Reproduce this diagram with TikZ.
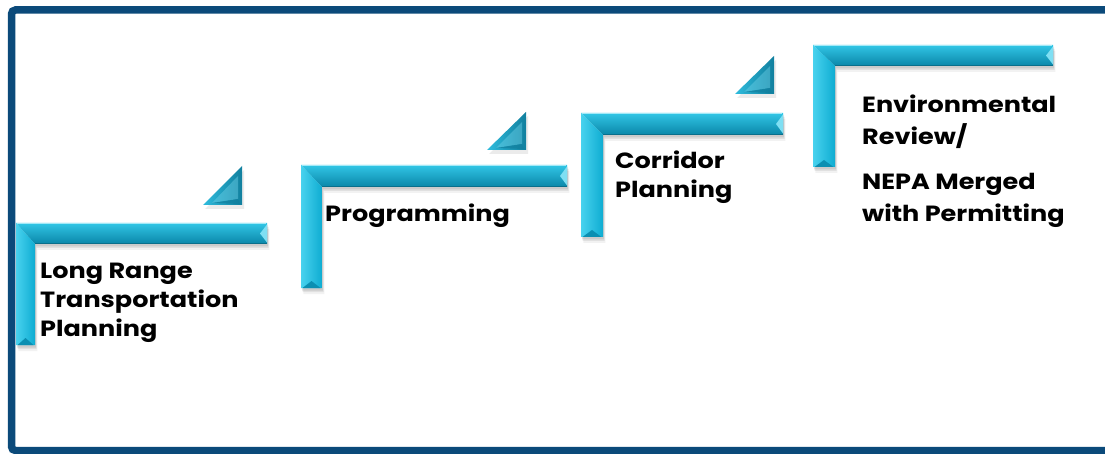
\documentclass[tikz,border=0pt]{standalone}
\usepackage{fontspec}
\setmainfont{Poppins}[BoldFont={Poppins Bold},BoldFeatures={FakeStretch=1.16}]
\definecolor{frameblue}{HTML}{0B4A7A}
\definecolor{barmain}{HTML}{0FB3D9}
\definecolor{barlight}{HTML}{48D2EE}
\definecolor{bardark}{HTML}{0A86A8}
\definecolor{tridark}{HTML}{117F9E}
\definecolor{trilight}{HTML}{2FBCDD}
\newcommand\stairL[6]{%
  % #1 x0, #2 y0, #3 x1, #4 yb (bottom of horizontal), #5 xr (right of vertical), #6 y1
  \foreach \o/\op in {6/0.05,4/0.07,2.5/0.09}{
    \fill[black,opacity=\op] (#1+\o*0.4,#2+\o) -- (#3+\o*0.4,#2+\o) -- (#3+\o*0.4,#4+\o) -- (#5+\o*0.4,#4+\o) -- (#5+\o*0.4,#6+\o) -- (#1+\o*0.4,#6+\o) -- cycle;
  }
  \shade[top color=barlight!60!barmain, middle color=barmain, bottom color=bardark]
    (#1,#2) -- (#3,#2) -- (#3,#4) -- (#5,#4) -- cycle;
  \shade[left color=barlight, right color=barmain!85!bardark]
    (#1,#2) -- (#5,#4) -- (#5,#6) -- (#1,#6) -- cycle;
  \fill[barlight!70!white] (#3,#2+1.5) -- (#3-7,{(#2+#4)/2}) -- (#3,#4-1.5) -- cycle;
  \fill[bardark!80!barmain] (#1+1.5,#6) -- ({(#1+#5)/2},#6-7) -- (#5-1.5,#6) -- cycle;
  \draw[barlight!50!white,line width=0.8pt] (#1+1,#2+0.6) -- (#3-1,#2+0.6);
  \draw[bardark!70!black,line width=0.6pt,opacity=0.6] (#5,#4-0.3) -- (#3,#4-0.3);
}
\newcommand\stairT[3]{%
  % #1 x right, #2 y top, #3 y bottom
  \fill[black,opacity=0.08] (#1+2,#2+4) -- (#1-39+2,#3+4) -- (#1+2,#3+4) -- cycle;
  \shade[left color=trilight, right color=tridark]
    (#1,#2) -- (#1-39,#3) -- (#1,#3) -- cycle;
  \fill[trilight!70!white,opacity=0.45] (#1-4,#2+10) -- (#1-30,#3-2) -- (#1-4,#3-6) -- cycle;
  \fill[tridark,opacity=0.7] (#1-4,#3-6) -- (#1-30,#3-2) -- (#1-2,#3-1) -- cycle;
}
\tikzset{steptext/.style={anchor=base west, font=\bfseries\fontsize{22}{29}\selectfont, inner sep=0pt}}
\begin{document}
\begin{tikzpicture}[x=1pt,y=-1pt]
\useasboundingbox (0,0) rectangle (1105,454);
\fill[white] (0,0) rectangle (1105,454);
\draw[frameblue,line width=7.5pt,rounded corners=4pt] (1120,10) -- (11.5,10) -- (11.5,450.5) -- (1120,450.5);
\stairL{16}{223}{267}{244}{35}{345}
\stairT{242}{166}{205}
\stairL{301}{165}{567}{187}{322}{288}
\stairT{526}{112}{150}
\stairL{581}{113}{783}{135}{603}{237}
\stairT{774}{56}{94}
\stairL{813}{45}{1053}{66}{835}{167}
\node[steptext] (lrtp1) at (40,278) {Long Range};
\node[steptext] (lrtp2) at (40,307) {Transportation};
\node[steptext] (lrtp3) at (40,336) {Planning};
\node[steptext] (prog) at (325,222) {Programming};
\node[steptext] (corr1) at (615,169) {Corridor};
\node[steptext] (corr2) at (615,198) {Planning};
\node[steptext] (env1) at (862,113) {Environmental};
\node[steptext] (env2) at (862,145) {Review/};
\node[steptext] (nepa1) at (862,190) {NEPA Merged};
\node[steptext] (nepa2) at (862,222) {with Permitting};
\end{tikzpicture}
\end{document}
